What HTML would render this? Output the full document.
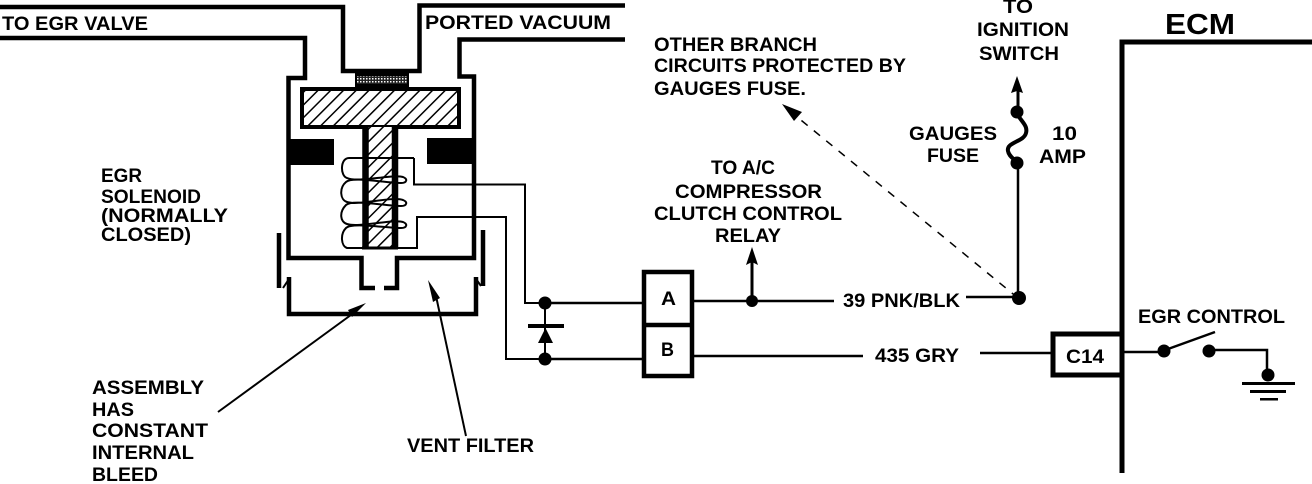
<!DOCTYPE html>
<html><head><meta charset="utf-8"><style>
html,body{margin:0;padding:0;background:#fff}
svg{display:block}
text{font-family:"Liberation Sans",sans-serif;font-weight:bold;font-size:19px;fill:#000}
</style></head><body>
<svg width="1312" height="484" viewBox="0 0 1312 484" xmlns="http://www.w3.org/2000/svg">
<defs>
<pattern id="h" width="9" height="9" patternUnits="userSpaceOnUse" patternTransform="rotate(-45)">
<rect width="9" height="9" fill="#fff"/><rect width="9" height="1.5" fill="#000"/>
</pattern>
<pattern id="d" width="3" height="3" patternUnits="userSpaceOnUse">
<rect width="3" height="3" fill="#222"/><rect width="1.5" height="1.5" fill="#fff"/>
</pattern>
</defs>
<g fill="none" stroke="#000" stroke-width="4.5">
<path d="M0 7H343V71H419.5V5.5H625"/>
<path d="M0 38H305V78H288.5V258H361.5V288H375"/>
<path d="M625 39.5H459.5V76.5H474V258H397V288H384"/>
<path d="M289 277V314H476V277"/>
<path d="M279 233V288M483 230V286"/>
<path d="M289 279L283 288M476 279L481 286" stroke-width="2"/>
</g>
<rect x="355" y="71" width="54" height="17" fill="#000"/>
<rect x="357" y="76" width="50" height="8" fill="url(#d)"/>
<rect x="302" y="89" width="157" height="38" fill="url(#h)" stroke="#000" stroke-width="4"/>
<rect x="365" y="127" width="31" height="121" fill="url(#h)"/>
<rect x="288" y="139" width="46" height="26" fill="#000"/>
<rect x="427" y="138" width="48" height="26" fill="#000"/>
<g fill="none" stroke="#000" stroke-width="2">
<path d="M414 158H349C340 158 340 176 347 178C358 183 392 174 403 177C408 179 407 183 401 183C385 183 352 176 346 182C339 188 340 200 347 202C358 206 392 196 403 200C408 202 407 206 401 206C385 206 352 199 346 205C339 212 340 222 347 224C358 228 392 219 403 222C408 224 407 228 401 228C385 228 352 222 346 228C340 234 341 246 347 248H417V217H506V359H540"/>
<path d="M414 158V184.500H525V303H642"/>
</g>
<path d="M365.500 127V249M395 127V249" stroke="#000" stroke-width="6.500" fill="none"/>
<path d="M362 248H398" stroke="#000" stroke-width="3"/>
<g fill="none" stroke="#000" stroke-width="2">
<path d="M545 303V359"/>
<path d="M1018 298L785 107" stroke-dasharray="8 8" stroke-width="1.500"/>
<path d="M218 412L355 312" stroke-width="2"/>
<path d="M466 436L436 296" stroke-width="2"/>
</g>
<g fill="none" stroke="#000" stroke-width="2.500">
<path d="M545 303H642M545 359H642"/>
<path d="M693 301H834M966 297H1018M693 356H863M980 353H1052"/>
<path d="M1018 298V163"/>
<path d="M1018 112V90" stroke-width="3"/>
<path d="M752 300V262" stroke-width="3"/>
<path d="M1122 352H1164M1209 350H1267V372"/>
<path d="M1168 349L1215 332" stroke-width="2.500"/>
</g>
<path d="M1017 114C1022 122 1028 126 1026 133C1024 142 1006 142 1008 151C1009 157 1015 159 1017 163" fill="none" stroke="#000" stroke-width="4"/>
<path d="M1122 473V42H1312" fill="none" stroke="#000" stroke-width="5"/>
<rect x="644" y="272" width="48" height="104" fill="#fff" stroke="#000" stroke-width="4.500"/>
<path d="M643 325H693" stroke="#000" stroke-width="4.500"/>
<path d="M1122 334H1053V375H1122" fill="none" stroke="#000" stroke-width="5"/>
<g fill="#000">
<circle cx="545" cy="303" r="6.500"/><circle cx="545" cy="359" r="6.500"/>
<rect x="528" y="324" width="36" height="4"/>
<path d="M538 343L545.500 328L553 343Z"/>
<circle cx="752" cy="301" r="6"/><path d="M746 265L752 247L758 265L752 262Z"/>
<circle cx="1019" cy="298" r="7"/><circle cx="1017" cy="163" r="6.500"/><circle cx="1017" cy="112" r="6.500"/>
<path d="M1011 93L1017 76L1023 93L1017 91Z"/>
<path d="M782 104L802 112L794 121Z"/>
<circle cx="1164" cy="351" r="6.500"/><circle cx="1209" cy="351" r="6.500"/><circle cx="1268" cy="375" r="6.500"/>
<rect x="1242" y="382" width="53" height="3"/><rect x="1250" y="390" width="36" height="3"/><rect x="1260" y="398" width="18" height="2.500"/>
<path d="M366 303L348 310L352 317Z"/>
<path d="M428 280L440 298L433 302Z"/>
</g>
<text x="2" y="30" textLength="146" lengthAdjust="spacingAndGlyphs">TO EGR VALVE</text>
<text x="425" y="29" textLength="186" lengthAdjust="spacingAndGlyphs">PORTED VACUUM</text>
<text x="1003" y="13" textLength="30" lengthAdjust="spacingAndGlyphs">TO</text>
<text x="977" y="36" textLength="92" lengthAdjust="spacingAndGlyphs">IGNITION</text>
<text x="979" y="60" textLength="80" lengthAdjust="spacingAndGlyphs">SWITCH</text>
<text x="1165" y="34" style="font-size:29px" textLength="70" lengthAdjust="spacingAndGlyphs">ECM</text>
<text x="654" y="51" textLength="163" lengthAdjust="spacingAndGlyphs">OTHER BRANCH</text>
<text x="654" y="72" textLength="252" lengthAdjust="spacingAndGlyphs">CIRCUITS PROTECTED BY</text>
<text x="654" y="95" textLength="152" lengthAdjust="spacingAndGlyphs">GAUGES FUSE.</text>
<text x="909" y="140" textLength="88" lengthAdjust="spacingAndGlyphs">GAUGES</text>
<text x="927" y="162" textLength="52" lengthAdjust="spacingAndGlyphs">FUSE</text>
<text x="1052" y="140" textLength="25" lengthAdjust="spacingAndGlyphs">10</text>
<text x="1039" y="163" textLength="47" lengthAdjust="spacingAndGlyphs">AMP</text>
<text x="101" y="182" textLength="41" lengthAdjust="spacingAndGlyphs">EGR</text>
<text x="101" y="203" textLength="100" lengthAdjust="spacingAndGlyphs">SOLENOID</text>
<text x="101" y="222" textLength="127" lengthAdjust="spacingAndGlyphs">(NORMALLY</text>
<text x="101" y="241" textLength="90" lengthAdjust="spacingAndGlyphs">CLOSED)</text>
<text x="711" y="174" textLength="64" lengthAdjust="spacingAndGlyphs">TO A/C</text>
<text x="675" y="198" textLength="147" lengthAdjust="spacingAndGlyphs">COMPRESSOR</text>
<text x="654" y="220" textLength="188" lengthAdjust="spacingAndGlyphs">CLUTCH CONTROL</text>
<text x="715" y="242" textLength="66" lengthAdjust="spacingAndGlyphs">RELAY</text>
<text x="661" y="305" textLength="15" lengthAdjust="spacingAndGlyphs">A</text>
<text x="661" y="356" textLength="13" lengthAdjust="spacingAndGlyphs">B</text>
<text x="843" y="307" textLength="117" lengthAdjust="spacingAndGlyphs">39 PNK/BLK</text>
<text x="875" y="362" textLength="84" lengthAdjust="spacingAndGlyphs">435 GRY</text>
<text x="1066" y="363" textLength="38" lengthAdjust="spacingAndGlyphs">C14</text>
<text x="1138" y="323" textLength="147" lengthAdjust="spacingAndGlyphs">EGR CONTROL</text>
<text x="92" y="394" textLength="112" lengthAdjust="spacingAndGlyphs">ASSEMBLY</text>
<text x="92" y="416" textLength="42" lengthAdjust="spacingAndGlyphs">HAS</text>
<text x="92" y="437" textLength="116" lengthAdjust="spacingAndGlyphs">CONSTANT</text>
<text x="92" y="459" textLength="102" lengthAdjust="spacingAndGlyphs">INTERNAL</text>
<text x="92" y="481" textLength="66" lengthAdjust="spacingAndGlyphs">BLEED</text>
<text x="407" y="452" textLength="127" lengthAdjust="spacingAndGlyphs">VENT FILTER</text>
</svg>
</body></html>
